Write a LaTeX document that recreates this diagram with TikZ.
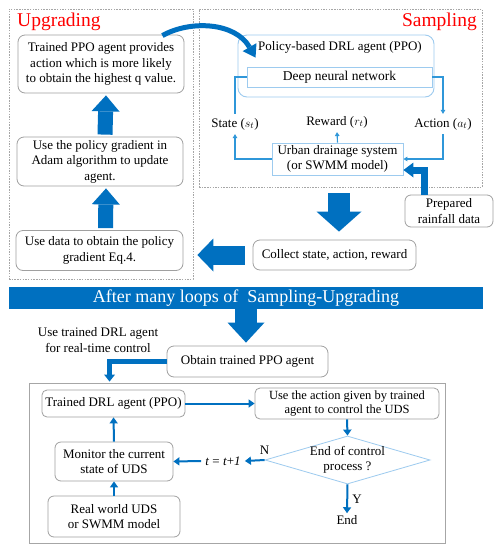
\documentclass[tikz,border=0pt]{standalone}
\usepackage{fontspec}
\setmainfont{Liberation Serif}
\usetikzlibrary{arrows.meta,shapes.geometric,calc,positioning}
\definecolor{flowblue}{HTML}{0070C0}
\definecolor{lineblue}{HTML}{2F97D9}
\definecolor{paleblue}{HTML}{9DCBEF}
\definecolor{framegray}{HTML}{A6A6A6}
\definecolor{boxgray}{HTML}{A0A0A0}

\begin{document}
\begin{tikzpicture}[x=1pt,y=-1pt,
txt/.style={font=\fontsize{13}{15.5}\selectfont,align=center,inner sep=0pt},
card/.style={txt,draw=boxgray,line width=0.8pt,rounded corners=7pt,fill=white},
sqbox/.style={txt,draw=paleblue,line width=0.9pt,fill=white},
region/.style={draw=framegray,line width=0.7pt,dash pattern=on 1.5pt off 1.2pt},
title/.style={font=\fontsize{19.5}{22}\selectfont,text=red,inner sep=0pt},
loopline/.style={draw=lineblue,line width=1.1pt},
looparrow/.style={loopline,-{Triangle[length=4pt,width=4.5pt]}},
flow/.style={draw=flowblue,line width=2pt,-{Triangle[length=6pt,width=8pt]}},
fat/.style n args={3}{draw=flowblue,line width=#1,-{Triangle[length=#2,width=#3,line width=0pt]}}]
\path[fill=white,use as bounding box] (0,0) rectangle (500,550);
\node[region,minimum width=184pt,minimum height=270pt] (upgrading) at (101,144) {};
\node[region,minimum width=283pt,minimum height=178pt] (sampling) at (340.5,98) {};
\node[title,anchor=west] (uplabel) at (17,22) {Upgrading};
\node[title,anchor=east] (samplabel) at (477,22) {Sampling};
\node[card,minimum width=166pt,minimum height=58pt] (provide) at (101,64) {Trained PPO agent provides\\action which is more likely\\to obtain the highest q value.};
\node[card,minimum width=166pt,minimum height=49pt] (adam) at (100,161.5) {Use the policy gradient in\\Adam algorithm to update\\agent.};
\node[card,minimum width=167pt,minimum height=40pt] (gradient) at (99.5,250.5) {Use data to obtain the policy\\gradient Eq.4.};
\draw[fat={15pt}{16pt}{28pt}] ([xshift=6pt,yshift=2pt]gradient.north) -- ([xshift=6pt,yshift=-2pt]adam.south);
\draw[fat={15pt}{16pt}{28pt}] ([xshift=5pt,yshift=2pt]adam.north) -- ([xshift=5pt,yshift=-2pt]provide.south);
\node[draw=paleblue,line width=0.9pt,rounded corners=9pt,minimum width=196pt,minimum height=62pt] (policy) at (336,66) {};
\node[txt] (policyname) at (340,47) {Policy-based DRL agent (PPO)};
\node[sqbox,font=\fontsize{13.5}{15}\selectfont,minimum width=185pt,minimum height=20pt] (dnn) at (339.5,77) {Deep neural network};
\node[sqbox,minimum width=131pt,minimum height=32pt] (urban) at (337.5,159) {Urban drainage system\\(or SWMM model)};
\node[txt,inner ysep=4pt] (state) at (235,124) {State ($s_t$)};
\node[txt,inner ysep=4pt] (reward) at (337,122) {Reward ($r_t$)};
\node[txt,inner ysep=4pt] (action) at (443,124) {Action ($a_t$)};
\draw[looparrow] (urban.west) -| (state.south);
\draw[loopline] (state.north) |- (dnn.west);
\draw[looparrow] (dnn.east) -| (action.north);
\draw[looparrow] (action.south) |- (urban.east);
\draw[looparrow] (urban.north) -- (reward.south);
\node[card,rounded corners=6pt,minimum width=88pt,minimum height=32pt] (rain) at (449,211) {Prepared\\rainfall data};
\draw[fat={7pt}{10pt}{15pt},line join=miter] ([xshift=-25pt]rain.north) |- ([yshift=-11pt]urban.east);
\node[card,minimum width=163pt,minimum height=30pt] (collect) at (334.5,255) {Collect state, action, reward};
\draw[fat={22pt}{20pt}{45pt}] ($(sampling.south)+(-1.5,6)$) -- ($(sampling.south |- collect.north)+(-1.5,-8)$);
\draw[fat={19pt}{16pt}{33pt}] ($(collect.west)+(-8,0)$) -- ($(upgrading.east |- collect.west)+(4,0)$);
\node[fill=flowblue,text=white,minimum width=474pt,minimum height=22pt,inner sep=0pt,font=\fontsize{18}{20}\selectfont] (banner) at (246,298) {After many loops of\ \ Sampling-Upgrading};
\node[card,minimum width=161pt,minimum height=31pt] (obtain) at (247.5,361.5) {Obtain trained PPO agent};
\draw[fat={22pt}{20pt}{37pt}] (banner.south) -- ($(obtain.north)+(-1.5,-3)$);
\node[txt] (uselabel) at (98,340) {Use trained DRL agent\\for real-time control};
\node[draw=framegray,line width=0.9pt,minimum width=416pt,minimum height=160pt] (control) at (237,463) {};
\draw[fat={5pt}{7pt}{11pt},line join=miter] (obtain.west) -| ($(control.north west)+(81,-1)$);
\node[card,rounded corners=5pt,minimum width=143pt,minimum height=27pt] (trained) at (113.5,403.5) {Trained DRL agent (PPO)};
\node[card,rounded corners=5pt,font=\fontsize{12.5}{14}\selectfont,minimum width=184pt,minimum height=31pt] (useact) at (347,403.5) {Use the action given by trained\\agent to control the UDS};
\node[diamond,draw=paleblue,line width=0.8pt,minimum width=165pt,minimum height=48pt,inner sep=0pt] (decide) at (347.5,460) {};
\node[txt] (decidetext) at (decide) {End of control\\process ?};
\node[card,rounded corners=6pt,minimum width=118pt,minimum height=39pt] (monitor) at (114,461.5) {Monitor the current\\state of UDS};
\node[card,rounded corners=6pt,minimum width=132pt,minimum height=41pt] (realworld) at (114,516.5) {Real world UDS\\or SWMM model};
\node[txt,inner xsep=4pt] (tstep) at (223,461) {\textit{t} = \textit{t}+\textit{1}};
\node[txt,inner ysep=2pt] (finish) at (347,520) {End};
\draw[flow] (trained.east) -- (useact.west);
\draw[flow] (useact.south) -- (decide.north);
\draw[flow] (decide.south) -- node[txt,right=4pt] {Y} (finish.north);
\draw[flow] (decide.west) -- node[txt,pos=0,above=5pt] {N} (tstep.east);
\draw[flow] (tstep.west) -- (monitor.east);
\draw[flow] (monitor.north) -- (trained.south);
\draw[flow] (realworld.north) -- (monitor.south);
\draw[draw=flowblue,line width=5pt,-{Triangle[length=12pt,width=16pt,line width=0pt]}] ($(provide.north east)+(-22,1)$) .. controls (190,20) and (235,22) .. ($(dnn.north west)+(9,-9)$);
\end{tikzpicture}
\end{document}
